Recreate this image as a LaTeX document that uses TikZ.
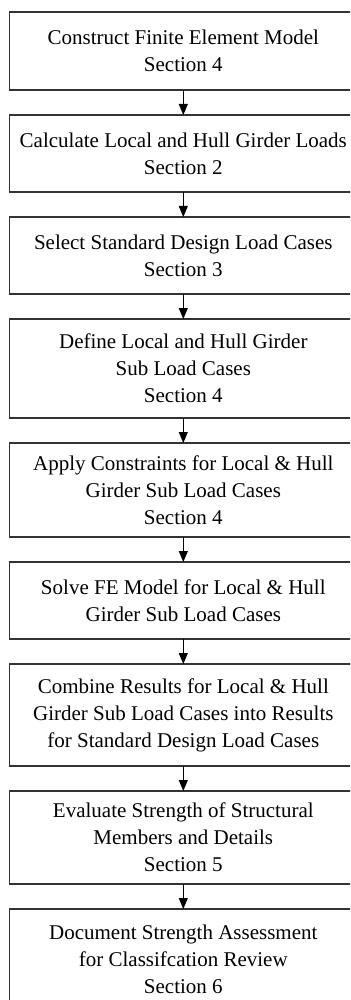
\documentclass[tikz,border=0pt]{standalone}
\usepackage{fontspec}
\setmainfont{Liberation Serif}
\usetikzlibrary{positioning,arrows.meta}
\begin{document}
\begin{tikzpicture}[x=0.5pt, y=-0.5pt, >={Triangle[width=4.5pt,length=5.5pt]},
    node distance=12.5pt,
    procbox/.style={draw=black!80, line width=0.7pt, rectangle, align=center,
        minimum width=173.8pt, inner sep=2pt, outer sep=0pt,
        font=\fontsize{10.5}{13.5}\selectfont},
    flow/.style={->, line width=0.5pt}]
    \useasboundingbox (0,0) rectangle (350,1000);
    \clip (0,0) rectangle (350,1000);
    % process steps
    \node[procbox, minimum height=39pt, anchor=north west] (model) at (9.5,12)
        {Construct Finite Element Model\\Section 4};
    \node[procbox, minimum height=38.5pt, below=of model] (loads)
        {Calculate Local and Hull Girder Loads\\Section 2};
    \node[procbox, minimum height=38.5pt, below=of loads] (select)
        {Select Standard Design Load Cases\\Section 3};
    \node[procbox, minimum height=49.5pt, below=of select] (define)
        {Define Local and Hull Girder\\Sub Load Cases\\Section 4};
    \node[procbox, minimum height=47pt, below=of define] (constr)
        {Apply Constraints for Local \& Hull\\Girder Sub Load Cases\\Section 4};
    \node[procbox, minimum height=38.5pt, below=of constr] (solve)
        {Solve FE Model for Local \& Hull\\Girder Sub Load Cases};
    \node[procbox, minimum height=51pt, below=of solve] (combine)
        {Combine Results for Local \& Hull\\Girder Sub Load Cases into Results\\for Standard Design Load Cases};
    \node[procbox, minimum height=46.5pt, below=of combine] (eval)
        {Evaluate Strength of Structural\\Members and Details\\Section 5};
    \node[procbox, minimum height=50pt, below=of eval] (report)
        {Document Strength Assessment\\for Classifcation Review\\Section 6};
    % arrows
    \draw[flow] (model) -- (loads);
    \draw[flow] (loads) -- (select);
    \draw[flow] (select) -- (define);
    \draw[flow] (define) -- (constr);
    \draw[flow] (constr) -- (solve);
    \draw[flow] (solve) -- (combine);
    \draw[flow] (combine) -- (eval);
    \draw[flow] (eval) -- (report);
\end{tikzpicture}
\end{document}
